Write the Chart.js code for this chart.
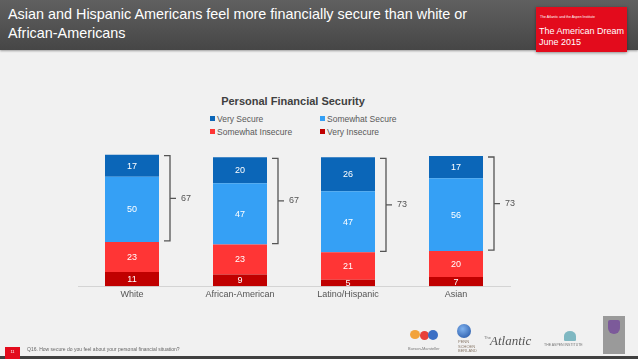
<!DOCTYPE html>
<html>
<head>
<meta charset="utf-8">
<script src="https://cdn.jsdelivr.net/npm/chart.js@4.4.1/dist/chart.umd.min.js"></script>
<style>
	html, body { margin: 0; padding: 0; }
	body {
		width: 638px; height: 359px; overflow: hidden; position: relative;
		background: #f1f1f1; font-family: "Liberation Sans", Arial, sans-serif;
	}
	#header {
		position: absolute; left: 0; top: 0; width: 638px; height: 50px;
		background: linear-gradient(#606060, #464646);
		box-shadow: 0 1px 2px rgba(0,0,0,0.35);
	}
	#title {
		position: absolute; left: 8px; top: 5px; color: #fff;
		font-size: 14.4px; line-height: 19px;
	}
	#badge {
		position: absolute; left: 536px; top: 7px; width: 91px; height: 45px;
		background: #e30b1c; color: #fff; box-shadow: 0 1px 3px rgba(0,0,0,0.4);
	}
	#badge .small { position: absolute; left: 4px; top: 8px; font-size: 3.5px; white-space: nowrap; }
	#badge .big { position: absolute; left: 3px; top: 19px; font-size: 9px; line-height: 11px; white-space: nowrap; }
	#chartTitle {
		position: absolute; left: 0; width: 586px; top: 95px; text-align: center;
		font-size: 11px; font-weight: bold; color: #404040;
	}
	#legend { position: absolute; left: 210px; top: 114px; width: 240px; }
	.item {
		position: absolute; font-size: 8.5px; color: #595959; white-space: nowrap;
	}
	.item span {
		display: inline-block; width: 5px; height: 5px; margin-right: 2px; vertical-align: 1px;
	}
	canvas { position: absolute; left: 0; top: 0; }
	#footer {
		position: absolute; left: 0; top: 356px; width: 638px; height: 3px; background: #404040;
	}
	#page {
		position: absolute; left: 5px; top: 347px; width: 15px; height: 12px;
		background: #e30b1c; color: #fff; font-size: 4px; text-align: center; line-height: 9px;
	}
	#question { position: absolute; left: 27px; top: 346px; font-size: 5px; color: #666; }
	.logo { position: absolute; color: #777; }
</style>
</head>
<body>
<div id="header">
	<div id="title">Asian and Hispanic Americans feel more financially secure than white or<br>African-Americans</div>
</div>
<div id="badge">
	<div class="small">The Atlantic and the Aspen Institute</div>
	<div class="big">The American Dream<br>June 2015</div>
</div>
<div id="chartTitle">Personal Financial Security</div>
<div id="legend"></div>
<canvas id="chart" width="638" height="359"></canvas>

<div class="logo" style="left:410px;top:330px;width:10px;height:9px;border-radius:50%;background:#f2a33a"></div>
<div class="logo" style="left:420px;top:331px;width:9px;height:9px;border-radius:50%;background:#e8403a"></div>
<div class="logo" style="left:428px;top:330px;width:10px;height:10px;border-radius:50%;background:#3b6fc4"></div>
<div class="logo" style="left:408px;top:346px;font-size:4px">Burson-Marsteller</div>
<div class="logo" style="left:457px;top:324px;width:14px;height:14px;border-radius:50%;background:radial-gradient(circle at 40% 35%, #7fb2ef, #1e4fa0)"></div>
<div class="logo" style="left:458px;top:340px;font-size:4px;line-height:4.5px;color:#8a7a6a">PENN<br>SCHOEN<br>BERLAND</div>
<div class="logo" style="left:484px;top:335px;font-size:4px">The</div>
<div class="logo" style="left:490px;top:333px;font-size:13px;font-style:italic;font-family:'Liberation Serif',serif;color:#555">Atlantic</div>
<div class="logo" style="left:564px;top:331px;width:12px;height:10px;border-radius:50% 50% 10% 10%;background:#7fb8c2"></div>
<div class="logo" style="left:544px;top:343px;font-size:3.5px">THE ASPEN INSTITUTE</div>
<div class="logo" style="left:603px;top:316px;width:22px;height:38px;background:#9a9a9a"></div>
<div class="logo" style="left:608px;top:320px;width:12px;height:14px;background:#7c5a9a;border-radius:2px 2px 6px 6px"></div>

<div id="footer"></div>
<div id="page">11</div>
<div id="question">Q16. How secure do you feel about your personal financial situation?</div>

<script>
const categories = ["White", "African-American", "Latino/Hispanic", "Asian"];
const veryInsecure = [11, 9, 5, 7];
const somewhatInsecure = [23, 23, 21, 20];
const somewhatSecure = [50, 47, 47, 56];
const verySecure = [17, 20, 26, 17];

const seriesNames = ["Very Insecure", "Somewhat Insecure", "Somewhat Secure", "Very Secure"];
const seriesColors = ["#c00000", "#ff3535", "#35a0f5", "#0b66b8"];
const seriesValues = [veryInsecure, somewhatInsecure, somewhatSecure, verySecure];

// legend laid out as in the slide: two columns, secure first
const legendOrder = [3, 2, 1, 0];
const legend = document.getElementById("legend");
legendOrder.forEach((s, i) => {
	const el = document.createElement("div");
	el.className = "item";
	el.style.left = (i % 2) * 110 + "px";
	el.style.top = Math.floor(i / 2) * 13 + "px";
	el.innerHTML = '<span style="background:' + seriesColors[s] + '"></span>' + seriesNames[s];
	legend.appendChild(el);
});

const segmentLabels = {
	id: "segmentLabels",
	afterDatasetsDraw(chart) {
		const ctx = chart.ctx;
		ctx.save();
		ctx.fillStyle = "#ffffff";
		ctx.font = "9px 'Liberation Sans', Arial, sans-serif";
		ctx.textAlign = "center";
		ctx.textBaseline = "middle";
		chart.data.datasets.forEach((ds, d) => {
			chart.getDatasetMeta(d).data.forEach((bar, i) => {
				const mid = (bar.y + bar.base) / 2;
				ctx.fillText(ds.data[i], bar.x, mid + 0.5);
			});
		});
		ctx.restore();
	},
};

// bracket over the two "secure" segments with their sum
const secureBrackets = {
	id: "secureBrackets",
	afterDatasetsDraw(chart) {
		const ctx = chart.ctx;
		const y = chart.scales.y;
		ctx.save();
		ctx.strokeStyle = "#555";
		ctx.lineWidth = 1.3;
		ctx.fillStyle = "#555";
		ctx.font = "9px 'Liberation Sans', Arial, sans-serif";
		ctx.textBaseline = "middle";
		categories.forEach((c, i) => {
			const bar = chart.getDatasetMeta(0).data[i];
			const low = veryInsecure[i] + somewhatInsecure[i];
			const high = low + somewhatSecure[i] + verySecure[i];
			const yTop = y.getPixelForValue(high) + 1;
			const yBot = y.getPixelForValue(low) - 1;
			const x0 = bar.x + bar.width / 2 + 5;
			const x1 = x0 + 6;
			const ym = (yTop + yBot) / 2;
			ctx.beginPath();
			ctx.moveTo(x0, yTop);
			ctx.lineTo(x1, yTop);
			ctx.lineTo(x1, yBot);
			ctx.lineTo(x0, yBot);
			ctx.moveTo(x1, ym);
			ctx.lineTo(x1 + 6, ym);
			ctx.stroke();
			ctx.fillText(somewhatSecure[i] + verySecure[i], x1 + 11, ym);
		});
		ctx.restore();
	},
};

new Chart(document.getElementById("chart"), {
	type: "bar",
	data: {
		labels: categories,
		datasets: seriesValues.map((v, s) => ({
			label: seriesNames[s],
			data: v,
			backgroundColor: seriesColors[s],
			borderWidth: 0,
			categoryPercentage: 1,
			barPercentage: 0.5,
		})),
	},
	options: {
		responsive: false,
		animation: false,
		layout: { padding: { left: 78, right: 128, top: 143, bottom: 56 } },
		plugins: {
			legend: { display: false },
			tooltip: { enabled: false },
		},
		scales: {
			x: {
				stacked: true,
				grid: { display: false, drawTicks: false },
				border: { color: "#d4d4d4" },
				ticks: { color: "#555", font: { size: 9, family: "'Liberation Sans', Arial, sans-serif" }, padding: 3 },
			},
			y: {
				stacked: true,
				display: false,
				min: 0,
				max: 110,
			},
		},
	},
	plugins: [segmentLabels, secureBrackets],
});
</script>
</body>
</html>
